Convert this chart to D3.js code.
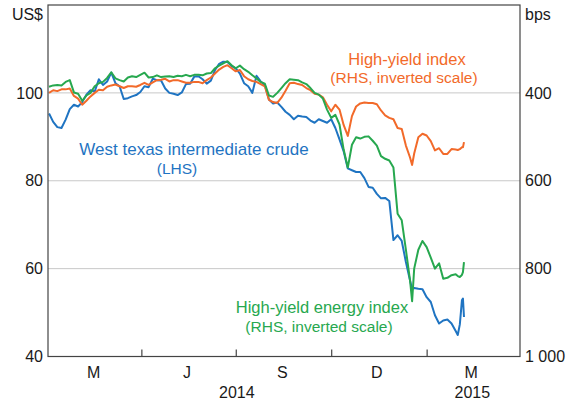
<!DOCTYPE html>
<html><head><meta charset="utf-8">
<script src="https://cdn.jsdelivr.net/npm/d3@7"></script>
<style>body{margin:0;background:#fff}svg{display:block;font-family:"Liberation Sans",Arial,sans-serif}</style>
</head><body><svg id="c" width="580" height="403"></svg>
<script>
const dates = ["2014-01-02","2014-01-06","2014-01-10","2014-01-14","2014-01-18","2014-01-22","2014-01-26","2014-01-30","2014-02-03","2014-02-07","2014-02-11","2014-02-15","2014-02-19","2014-02-23","2014-02-27","2014-03-03","2014-03-07","2014-03-11","2014-03-15","2014-03-19","2014-03-23","2014-03-27","2014-03-31","2014-04-04","2014-04-08","2014-04-12","2014-04-16","2014-04-20","2014-04-24","2014-04-28","2014-05-02","2014-05-06","2014-05-10","2014-05-14","2014-05-18","2014-05-22","2014-05-26","2014-05-30","2014-06-03","2014-06-07","2014-06-11","2014-06-15","2014-06-19","2014-06-23","2014-06-27","2014-07-01","2014-07-05","2014-07-09","2014-07-13","2014-07-17","2014-07-21","2014-07-25","2014-07-29","2014-08-02","2014-08-06","2014-08-10","2014-08-14","2014-08-18","2014-08-22","2014-08-26","2014-08-30","2014-09-03","2014-09-07","2014-09-11","2014-09-15","2014-09-19","2014-09-23","2014-09-27","2014-10-01","2014-10-05","2014-10-09","2014-10-13","2014-10-17","2014-10-21","2014-10-25","2014-10-29","2014-11-02","2014-11-06","2014-11-10","2014-11-14","2014-11-18","2014-11-22","2014-11-26","2014-11-30","2014-12-04","2014-12-08","2014-12-12","2014-12-16","2014-12-18","2014-12-20","2014-12-24","2014-12-28","2015-01-01","2015-01-05","2015-01-09","2015-01-13","2015-01-17","2015-01-21","2015-01-25","2015-01-29","2015-01-31","2015-02-02","2015-02-03","2015-02-04","2015-02-05","2015-02-06"];

// West Texas intermediate crude, US$ (LHS)
const wti = [95.3,93.4,92.2,92.0,93.9,96.3,97.3,96.9,97.9,99.6,100.6,100.3,103.1,101.8,102.6,104.6,102.2,101.5,98.6,98.8,99.2,99.5,100.2,101.5,101.3,103.2,102.9,102.8,101.0,100.0,99.8,99.5,100.1,102.0,102.1,103.7,103.8,103.1,102.1,102.8,105.2,106.6,107.1,107.0,106.1,105.6,104.4,102.2,101.5,100.0,103.9,102.6,101.8,98.5,97.6,97.8,96.8,95.7,95.0,94.0,94.8,94.6,94.5,93.7,93.2,94.0,93.6,93.2,94.0,92.0,89.4,86.7,82.8,82.4,82.0,82.0,80.6,78.6,78.4,77.0,76.0,76.1,75.4,66.5,67.6,66.3,61.5,57.3,55.3,55.6,55.4,55.3,53.5,52.4,49.4,47.5,48.2,48.4,47.5,45.8,44.9,47.3,50.0,52.8,53.2,49.0];

// High-yield index, bps (RHS, inverted)
const hyIndex = [400,394,396,392,392,390,407,413,427,418,408,400,393,394,386,383,381,385,389,385,385,386,382,377,382,376,371,370,368,374,371,371,374,377,377,375,375,378,371,365,356,347,341,337,344,351,348,362,369,373,375,380,385,416,421,423,411,395,378,377,380,382,389,394,402,404,410,427,442,427,438,473,498,453,431,424,422,423,423,426,440,451,457,460,480,482,520,547,564,538,501,493,497,510,531,526,539,539,528,529,530,528,526,524,524,512];

// High-yield energy index, bps (RHS, inverted)
const hyEnergy = [386,383,382,383,375,371,399,402,418,406,400,385,378,375,366,353,367,371,374,365,362,364,359,354,365,364,360,364,363,362,364,361,362,359,362,359,359,360,356,355,344,338,333,328,337,344,338,346,352,360,367,375,379,406,409,400,389,378,369,370,371,376,380,389,400,404,413,438,457,450,472,529,570,518,501,504,500,499,509,520,544,550,554,570,675,690,757,827,874,800,757,737,751,775,800,788,823,821,815,813,817,819,817,814,808,785];

const leftTicks = [40, 60, 80, 100];
const rightTicks = [400, 600, 800, 1000];
const rightTickLabels = ["400", "600", "800", "1\u00a0000"];
const gridValues = [60, 80, 100];
const quarterTicks = ["2014-04-01", "2014-07-01", "2014-10-01", "2015-01-01"];
const monthLabels = [["2014-02-14", "M"], ["2014-05-15", "J"], ["2014-08-15", "S"], ["2014-11-14", "D"], ["2015-02-13", "M"]];
const yearLabels = [["2014-07-02", "2014"], ["2015-02-14", "2015"]];

const parse = d3.timeParse("%Y-%m-%d");
const L = 48, R = 520, T = 5, B = 356.5;
const svg = d3.select("#c");
const x = d3.scaleTime().domain([parse("2014-01-01"), parse("2015-04-01")]).range([L, R]);
const yL = d3.scaleLinear().domain([40, 120]).range([B, T]);
const yR = d3.scaleLinear().domain([200, 1000]).range([T, B]);

const col = {wti: "#1f74c2", hy: "#f26a2a", en: "#27a84f"};
const txt = "#1a1a1a";

// gridlines
svg.append("g").selectAll("line").data(gridValues).join("line")
  .attr("x1", L).attr("x2", R).attr("y1", d => yL(d)).attr("y2", d => yL(d))
  .attr("stroke", "#c8c8c8").attr("stroke-width", 1);

// series
const rows = dates.map((d, i) => ({date: parse(d), wti: wti[i], hy: hyIndex[i], en: hyEnergy[i]}));
const lineL = key => d3.line().x(d => x(d.date)).y(d => yL(d[key]));
const lineR = key => d3.line().x(d => x(d.date)).y(d => yR(d[key]));
const g = svg.append("g").attr("fill", "none").attr("stroke-width", 2).attr("stroke-linejoin", "round");
g.append("path").attr("d", lineL("wti")(rows)).attr("stroke", col.wti);
g.append("path").attr("d", lineR("hy")(rows)).attr("stroke", col.hy);
g.append("path").attr("d", lineR("en")(rows)).attr("stroke", col.en);

// frame
svg.append("rect").attr("x", L).attr("y", T).attr("width", R - L).attr("height", B - T)
  .attr("fill", "none").attr("stroke", "#444").attr("stroke-width", 1.2);

// x axis ticks (inside)
const ax = svg.append("g").attr("transform", `translate(0,${B})`)
  .call(d3.axisBottom(x).tickValues(quarterTicks.map(parse)).tickSize(-7).tickFormat(""));
ax.select(".domain").remove();
ax.selectAll("line").attr("stroke", "#444").attr("stroke-width", 1.2);

svg.append("g").selectAll("text").data(monthLabels).join("text")
  .attr("x", d => x(parse(d[0]))).attr("y", 378).attr("text-anchor", "middle")
  .attr("font-size", 16).attr("fill", txt).text(d => d[1]);
svg.append("g").selectAll("text").data(yearLabels).join("text")
  .attr("x", d => x(parse(d[0]))).attr("y", 398).attr("text-anchor", "middle")
  .attr("font-size", 16).attr("fill", txt).text(d => d[1]);

// y axes
const axl = svg.append("g").attr("transform", `translate(${L},0)`)
  .call(d3.axisLeft(yL).tickValues(leftTicks).tickSize(0).tickPadding(5));
axl.select(".domain").remove();
axl.selectAll("text").attr("font-size", 16).attr("fill", txt).attr("font-family", null);
const axr = svg.append("g").attr("transform", `translate(${R},0)`)
  .call(d3.axisRight(yR).tickValues(rightTicks).tickSize(0).tickPadding(5).tickFormat((d, i) => rightTickLabels[i]));
axr.select(".domain").remove();
axr.selectAll("text").attr("font-size", 16).attr("fill", txt).attr("font-family", null);

svg.append("text").attr("x", L - 5).attr("y", 20).attr("text-anchor", "end")
  .attr("font-size", 16).attr("fill", txt).text("US$");
svg.append("text").attr("x", R + 5).attr("y", 20).attr("text-anchor", "start")
  .attr("font-size", 16).attr("fill", txt).text("bps");

// series labels
const labels = [
  {t: "High-yield index", x: 407, y: 65, s: 16.5, c: col.hy},
  {t: "(RHS, inverted scale)", x: 404, y: 83, s: 15.5, c: col.hy},
  {t: "West texas intermediate crude", x: 194, y: 155, s: 17, c: col.wti},
  {t: "(LHS)", x: 177, y: 174, s: 15.5, c: col.wti},
  {t: "High-yield energy index", x: 322, y: 313, s: 16.5, c: col.en},
  {t: "(RHS, inverted scale)", x: 319, y: 332, s: 15.5, c: col.en}
];
svg.append("g").selectAll("text").data(labels).join("text")
  .attr("x", d => d.x).attr("y", d => d.y).attr("text-anchor", "middle")
  .attr("font-size", d => d.s).attr("fill", d => d.c).text(d => d.t);
</script></body></html>
